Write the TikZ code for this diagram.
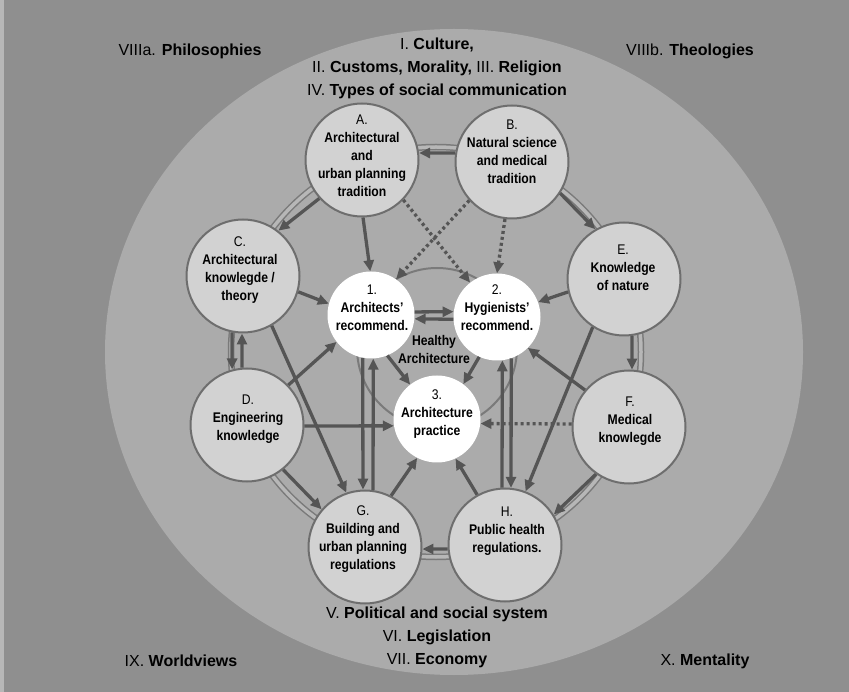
\documentclass[tikz,border=0pt]{standalone}
\usepackage{fontspec}
\setmainfont{Liberation Sans}
\newfontfamily\narrowsans[FakeStretch=0.87]{Liberation Sans}
\usetikzlibrary{arrows.meta}
\definecolor{bgc}{HTML}{8F8F8F}
\definecolor{ellc}{HTML}{ABABAB}
\definecolor{nodefill}{HTML}{D2D2D2}
\definecolor{nodeedge}{HTML}{6E6E6E}
\definecolor{arrc}{HTML}{555555}
\definecolor{bandfill}{HTML}{B7B7B7}
\definecolor{bandedge}{HTML}{7A7A7A}
\tikzset{
  big/.style={font=\fontsize{16}{23}\selectfont, align=center, inner sep=0},
  ntext/.style={font=\narrowsans\fontsize{14}{18}\selectfont\bfseries, align=center, inner sep=0},
  gnode/.style={circle, draw=nodeedge, line width=2pt, fill=nodefill, minimum size=113pt, inner sep=0},
  wnode/.style={circle, fill=white, minimum size=87pt, inner sep=0},
  arr/.style={draw=arrc, line width=3.3pt, -{Triangle[length=11pt,width=10pt]}},
  darr/.style={arr, dash pattern=on 3pt off 3pt},
}
\begin{document}
\begin{tikzpicture}[x=1pt, y=-1pt]
\useasboundingbox (0,0) rectangle (849,692);
\fill[bgc] (0,0) rectangle (849,692);
\fill[bandfill] (0,0) rectangle (4,692);
\fill[ellc] (454,352) ellipse [x radius=349pt, y radius=323pt];
% outer band ring
\draw[bandedge, line width=6.5pt] (436,352) circle [radius=205pt];
\draw[bandfill, line width=3.5pt] (436,352) circle [radius=205pt];
% healthy architecture ring
\draw[bandedge, line width=2pt] (437,348) circle [radius=80pt];

% corner and title texts
\node[big] (t8a) at (190,51) {VIIIa. \textbf{Philosophies}};
\node[big] (t8b) at (690,51) {VIIIb. \textbf{Theologies}};
\node[big] (ttop) at (437,68) {I. \textbf{Culture,}\\II. \textbf{Customs, Morality,} III. \textbf{Religion}\\IV. \textbf{Types of social communication}};
\node[big] (tbot) at (437,637) {V. \textbf{Political and social system}\\VI. \textbf{Legislation}\\VII. \textbf{Economy}};
\node[big] (t9) at (181,661) {IX. \textbf{Worldviews}};
\node[big] (t10) at (705,661) {X. \textbf{Mentality}};

% nodes
\node[gnode] (A) at (362,160) {};
\node[gnode] (B) at (512,162) {};
\node[gnode] (C) at (243,276) {};
\node[gnode] (E) at (624,279) {};
\node[gnode] (D) at (247,425) {};
\node[gnode] (F) at (629,427) {};
\node[gnode] (G) at (365,547) {};
\node[gnode] (H) at (505,545) {};
\node[wnode] (N1) at (371,315) {};
\node[wnode] (N2) at (497,317) {};
\node[wnode] (N3) at (437,419) {};

\node[ntext] (At) at (362,155.5) {\textmd{A.}\\Architectural\\and\\urban planning\\tradition};
\node[ntext] (Bt) at (512,152) {\textmd{B.}\\Natural science\\and medical\\tradition};
\node[ntext] (Ct) at (240,270) {\textmd{C.}\\Architectural\\knowlegde /\\theory};
\node[ntext] (Et) at (623,268) {\textmd{E.}\\Knowledge\\of nature};
\node[ntext] (Dt) at (248,419.5) {\textmd{D.}\\Engineering\\knowledge};
\node[ntext] (Ft) at (630,421) {\textmd{F.}\\Medical\\knowlegde};
\node[ntext] (Gt) at (363,539.5) {\textmd{G.}\\Building and\\urban planning\\regulations};
\node[ntext] (Ht) at (507,531) {\textmd{H.}\\Public health\\regulations.};
\node[ntext] (N1t) at (372,307.5) {\textmd{1.}\\Architects’\\recommend.};
\node[ntext] (N2t) at (497,307.5) {\textmd{2.}\\Hygienists’\\recommend.};
\node[ntext] (N3t) at (437,414.5) {\textmd{3.}\\Architecture\\practice};
\node[ntext] (HAt) at (434,349) {Healthy\\Architecture};

% connectors
\draw[arr] (B.171) -- (A.7);
\draw[arr] (A.222) -- (C.52);
\draw[arr] (B.-33) -- (E.120);
\draw[arr] (A.-89) -- (N1.91);
\draw[darr] (A.-44) -- (N2.128);
\draw[darr] (B.222) -- (N1.55);
\draw[darr] (B.263) -- (N2.90);
\draw[arr] (C.-16) -- (N1.165);
\draw[arr] (E.193) -- (N2.20);
\draw[arr] (N1.4) -- (N2.173);
\draw[arr] (N2.183) -- (N1.-5);
\draw[arr] (C.-101) -- (D.105);
\draw[arr] (D.95) -- (C.-91);
\draw[arr] (C.-60) -- (G.109);
\draw[arr] (D.44) -- (N1.218);
\draw[arr] (D.-1) -- (N3.189);
\draw[arr] (D.-51) -- (G.139);
\draw[arr] (N1.-68) -- (N3.128);
\draw[arr] (N2.246) -- (N3.53);
\draw[arr] (N1.-101) -- (G.92);
\draw[arr] (G.82) -- (N1.-87);
\draw[arr] (H.93) -- (N2.-83);
\draw[arr] (N2.-71) -- (H.84);
\draw[arr] (E.237) -- (H.69);
\draw[arr] (E.-82) -- (F.87);
\draw[arr] (F.140) -- (N2.-45);
\draw[darr] (F.177) -- (N3.-6);
\draw[arr] (F.235) -- (H.32);
\draw[arr] (H.184) -- (G.-2);
\draw[arr] (G.63) -- (N3.243);
\draw[arr] (H.119) -- (N3.-65);
\end{tikzpicture}
\end{document}
